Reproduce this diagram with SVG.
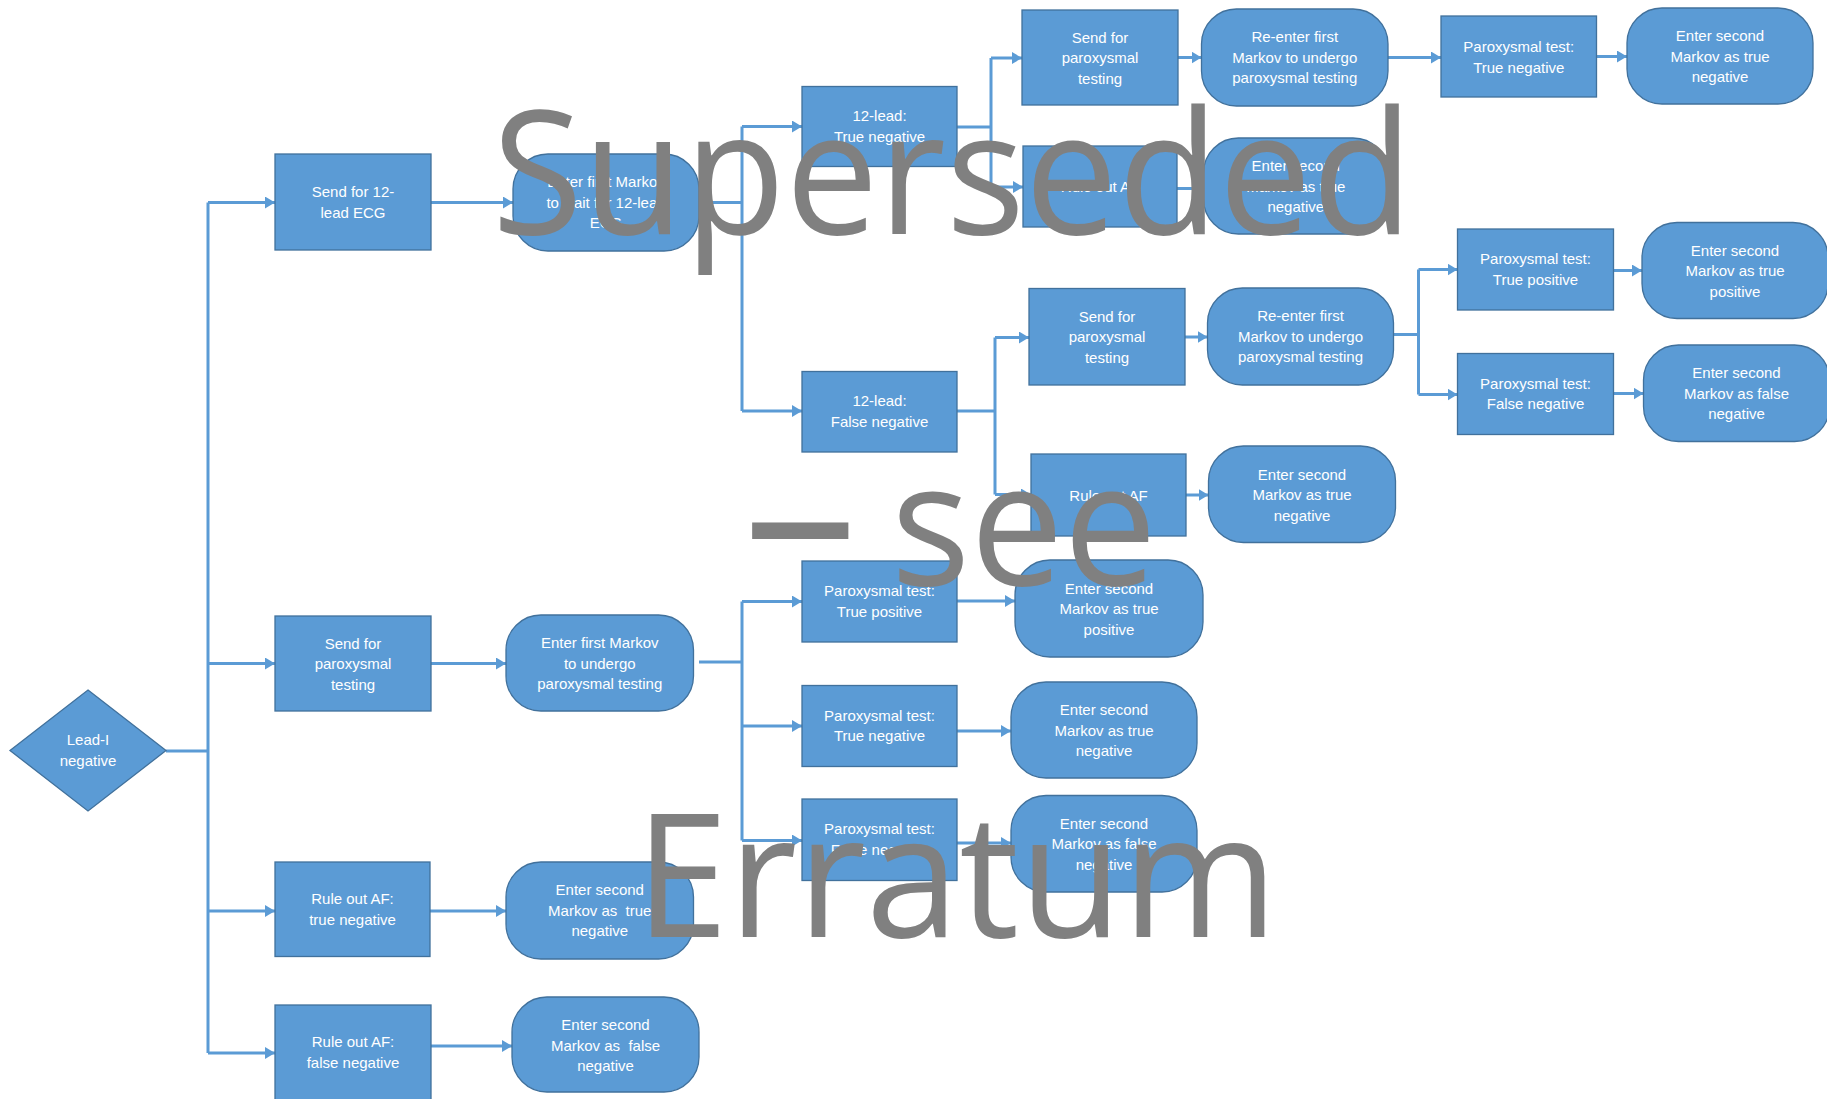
<svg xmlns="http://www.w3.org/2000/svg" width="1827" height="1099" viewBox="0 0 1827 1099">
<style>
.box{fill:#5B9BD5;stroke:#41719C;stroke-width:1.3}
.lbl{font-family:"Liberation Sans",Arial,sans-serif;font-size:15px;fill:#FFFFFF;text-anchor:middle}
.conn{fill:none;stroke:#5B9BD5;stroke-width:3}
.arr{marker-end:url(#ah)}
.wm{font-family:"Open Sans","Noto Sans",sans-serif;font-size:172px;fill:#808080}
</style>
<defs>
<marker id="ah" markerUnits="userSpaceOnUse" markerWidth="12" markerHeight="14" refX="10" refY="6" orient="auto">
<path d="M0,0 L10,6 L0,12 Z" fill="#5B9BD5"/>
</marker>
</defs>
<rect width="1827" height="1099" fill="#FFFFFF"/>

<g id="connectors">
<path class="conn" d="M166,751 H208 M208,202.5 V1053"/>
<path class="conn arr" d="M208,202.5 H275"/>
<path class="conn arr" d="M208,663.5 H275"/>
<path class="conn arr" d="M208,911 H275"/>
<path class="conn arr" d="M208,1053 H275"/>
<path class="conn arr" d="M431,202.5 H513"/>
<path class="conn arr" d="M431,663.5 H506"/>
<path class="conn arr" d="M430,911 H506"/>
<path class="conn arr" d="M431,1046 H512"/>
<path class="conn" d="M699,202.5 H742 M742,126.5 V411"/>
<path class="conn arr" d="M742,126.5 H802"/>
<path class="conn arr" d="M742,411 H802"/>
<path class="conn" d="M957,127 H991 M991,58 V187"/>
<path class="conn arr" d="M991,58 H1022"/>
<path class="conn arr" d="M991,187 H1023"/>
<path class="conn arr" d="M1178,57.5 H1201.5"/>
<path class="conn arr" d="M1177,188.5 H1203.5"/>
<path class="conn arr" d="M1388,57.5 H1441"/>
<path class="conn arr" d="M1596.5,56.5 H1627"/>
<path class="conn" d="M957,411 H995 M995,337.5 V494.5"/>
<path class="conn arr" d="M995,337.5 H1029"/>
<path class="conn arr" d="M995,494.5 H1031"/>
<path class="conn arr" d="M1185,337 H1207.5"/>
<path class="conn arr" d="M1186,495 H1208.5"/>
<path class="conn" d="M1394,334.5 H1418.5 M1418.5,269.5 V394.5"/>
<path class="conn arr" d="M1418.5,269.5 H1457.5"/>
<path class="conn arr" d="M1418.5,394.5 H1457.5"/>
<path class="conn arr" d="M1613.5,270.5 H1642"/>
<path class="conn arr" d="M1613.5,393.5 H1643.5"/>
<path class="conn" d="M699,662 H742 M742,601.5 V840.5"/>
<path class="conn arr" d="M742,601.5 H802"/>
<path class="conn arr" d="M742,726 H802"/>
<path class="conn arr" d="M742,840.5 H802"/>
<path class="conn arr" d="M957,601 H1015"/>
<path class="conn arr" d="M957,731 H1011"/>
<path class="conn arr" d="M957,843 H1011"/>
</g>

<g id="n-lead1"><polygon class="box" points="88,690 166,750.5 88,811 10,750.5"/><text class="lbl"><tspan x="88" y="745">Lead-I</tspan><tspan x="88" y="766">negative</tspan></text></g>

<g id="n-send12"><rect class="box" x="275" y="154" width="156" height="96"/><text class="lbl"><tspan x="353" y="197">Send for 12-</tspan><tspan x="353" y="217.5">lead ECG</tspan></text></g>
<g id="n-enterwait"><rect class="box" x="513" y="154" width="186" height="97" rx="35" ry="35"/><text class="lbl"><tspan x="606" y="187">Enter first Markov</tspan><tspan x="606" y="207.5">to wait for 12-lead</tspan><tspan x="606" y="228">ECG</tspan></text></g>
<g id="n-12tn"><rect class="box" x="802" y="86.5" width="155" height="80"/><text class="lbl"><tspan x="879.5" y="121">12-lead:</tspan><tspan x="879.5" y="141.5">True negative</tspan></text></g>
<g id="n-12fn"><rect class="box" x="802" y="371.5" width="155" height="80.5"/><text class="lbl"><tspan x="879.5" y="406">12-lead:</tspan><tspan x="879.5" y="426.5">False negative</tspan></text></g>

<g id="n-sendp-top"><rect class="box" x="1022" y="10" width="156" height="95"/><text class="lbl"><tspan x="1100" y="42.5">Send for</tspan><tspan x="1100" y="63">paroxysmal</tspan><tspan x="1100" y="83.5">testing</tspan></text></g>
<g id="n-rule-top"><rect class="box" x="1023" y="146" width="154" height="81"/><text class="lbl"><tspan x="1100" y="192">Rule out AF</tspan></text></g>
<g id="n-reenter-top"><rect class="box" x="1201.5" y="9" width="186.5" height="97" rx="35" ry="35"/><text class="lbl"><tspan x="1294.75" y="42">Re-enter first</tspan><tspan x="1294.75" y="62.5">Markov to undergo</tspan><tspan x="1294.75" y="83">paroxysmal testing</tspan></text></g>
<g id="n-e2tn-top"><rect class="box" x="1203.5" y="138" width="184.5" height="96" rx="35" ry="35"/><text class="lbl"><tspan x="1295.75" y="171">Enter second</tspan><tspan x="1295.75" y="191.5">Markov as true</tspan><tspan x="1295.75" y="212">negative</tspan></text></g>
<g id="n-ptn-top"><rect class="box" x="1441" y="16" width="155.5" height="81"/><text class="lbl"><tspan x="1518.75" y="52">Paroxysmal test:</tspan><tspan x="1518.75" y="72.5">True negative</tspan></text></g>
<g id="n-e2tn-topright"><rect class="box" x="1627" y="8" width="186" height="96" rx="35" ry="35"/><text class="lbl"><tspan x="1720" y="41">Enter second</tspan><tspan x="1720" y="61.5">Markov as true</tspan><tspan x="1720" y="82">negative</tspan></text></g>

<g id="n-sendp-mid"><rect class="box" x="1029" y="288.5" width="156" height="96.5"/><text class="lbl"><tspan x="1107" y="321.5">Send for</tspan><tspan x="1107" y="342">paroxysmal</tspan><tspan x="1107" y="362.5">testing</tspan></text></g>
<g id="n-rule-mid"><rect class="box" x="1031" y="454" width="155" height="82"/><text class="lbl"><tspan x="1108.5" y="500.5">Rule out AF</tspan></text></g>
<g id="n-reenter-mid"><rect class="box" x="1207.5" y="288" width="186" height="97" rx="35" ry="35"/><text class="lbl"><tspan x="1300.5" y="321">Re-enter first</tspan><tspan x="1300.5" y="341.5">Markov to undergo</tspan><tspan x="1300.5" y="362">paroxysmal testing</tspan></text></g>
<g id="n-e2tn-mid"><rect class="box" x="1208.5" y="446" width="187" height="96.5" rx="35" ry="35"/><text class="lbl"><tspan x="1302" y="479.5">Enter second</tspan><tspan x="1302" y="500">Markov as true</tspan><tspan x="1302" y="520.5">negative</tspan></text></g>
<g id="n-ptp-mid"><rect class="box" x="1457.5" y="229" width="156" height="81"/><text class="lbl"><tspan x="1535.5" y="264">Paroxysmal test:</tspan><tspan x="1535.5" y="284.5">True positive</tspan></text></g>
<g id="n-pfn-mid"><rect class="box" x="1457.5" y="353.5" width="156" height="81"/><text class="lbl"><tspan x="1535.5" y="388.5">Paroxysmal test:</tspan><tspan x="1535.5" y="409">False negative</tspan></text></g>
<g id="n-e2tp-right"><rect class="box" x="1642" y="222.5" width="186" height="96" rx="35" ry="35"/><text class="lbl"><tspan x="1735" y="255.5">Enter second</tspan><tspan x="1735" y="276">Markov as true</tspan><tspan x="1735" y="296.5">positive</tspan></text></g>
<g id="n-e2fn-right"><rect class="box" x="1643.5" y="345" width="186" height="96.5" rx="35" ry="35"/><text class="lbl"><tspan x="1736.5" y="378">Enter second</tspan><tspan x="1736.5" y="398.5">Markov as false</tspan><tspan x="1736.5" y="419">negative</tspan></text></g>

<g id="n-sendp-left"><rect class="box" x="275" y="616" width="156" height="95"/><text class="lbl"><tspan x="353" y="648.5">Send for</tspan><tspan x="353" y="669">paroxysmal</tspan><tspan x="353" y="689.5">testing</tspan></text></g>
<g id="n-enterundergo"><rect class="box" x="506" y="615" width="187.5" height="96" rx="35" ry="35"/><text class="lbl"><tspan x="599.75" y="648">Enter first Markov</tspan><tspan x="599.75" y="668.5">to undergo</tspan><tspan x="599.75" y="689">paroxysmal testing</tspan></text></g>
<g id="n-ptp-low"><rect class="box" x="802" y="561" width="155" height="81"/><text class="lbl"><tspan x="879.5" y="596">Paroxysmal test:</tspan><tspan x="879.5" y="616.5">True positive</tspan></text></g>
<g id="n-ptn-low"><rect class="box" x="802" y="685.5" width="155" height="81"/><text class="lbl"><tspan x="879.5" y="720.5">Paroxysmal test:</tspan><tspan x="879.5" y="741">True negative</tspan></text></g>
<g id="n-pfn-low"><rect class="box" x="802" y="799" width="155" height="81.5"/><text class="lbl"><tspan x="879.5" y="834">Paroxysmal test:</tspan><tspan x="879.5" y="854.5">False negative</tspan></text></g>
<g id="n-e2tp-low"><rect class="box" x="1015" y="560" width="188" height="97" rx="35" ry="35"/><text class="lbl"><tspan x="1109" y="593.5">Enter second</tspan><tspan x="1109" y="614">Markov as true</tspan><tspan x="1109" y="634.5">positive</tspan></text></g>
<g id="n-e2tn-low"><rect class="box" x="1011" y="682" width="186" height="96" rx="35" ry="35"/><text class="lbl"><tspan x="1104" y="715">Enter second</tspan><tspan x="1104" y="735.5">Markov as true</tspan><tspan x="1104" y="756">negative</tspan></text></g>
<g id="n-e2fn-low"><rect class="box" x="1011" y="795.5" width="186" height="96.5" rx="35" ry="35"/><text class="lbl"><tspan x="1104" y="828.5">Enter second</tspan><tspan x="1104" y="849">Markov as false</tspan><tspan x="1104" y="869.5">negative</tspan></text></g>

<g id="n-ruletn"><rect class="box" x="275" y="862" width="155" height="94.5"/><text class="lbl"><tspan x="352.5" y="904">Rule out AF:</tspan><tspan x="352.5" y="924.5">true negative</tspan></text></g>
<g id="n-e2tn-bottom"><rect class="box" x="506" y="862" width="187.5" height="97" rx="35" ry="35"/><text class="lbl" xml:space="preserve"><tspan x="599.75" y="895">Enter second</tspan><tspan x="599.75" y="915.5">Markov as  true</tspan><tspan x="599.75" y="936">negative</tspan></text></g>
<g id="n-rulefn"><rect class="box" x="275" y="1005" width="156" height="96"/><text class="lbl"><tspan x="353" y="1047">Rule out AF:</tspan><tspan x="353" y="1067.5">false negative</tspan></text></g>
<g id="n-e2fn-bottom"><rect class="box" x="512" y="997" width="187" height="95" rx="35" ry="35"/><text class="lbl" xml:space="preserve"><tspan x="605.5" y="1030">Enter second</tspan><tspan x="605.5" y="1050.5">Markov as  false</tspan><tspan x="605.5" y="1071">negative</tspan></text></g>

<g id="watermark">
<text class="wm" x="492" y="234" textLength="921" lengthAdjust="spacingAndGlyphs">Superseded</text>
<text class="wm"><tspan x="743" y="591.5" font-size="229">– </tspan><tspan x="891" y="585" textLength="266" lengthAdjust="spacingAndGlyphs">see</tspan></text>
<text class="wm" x="635" y="936.5" textLength="643" lengthAdjust="spacingAndGlyphs">Erratum</text>
</g>
</svg>
